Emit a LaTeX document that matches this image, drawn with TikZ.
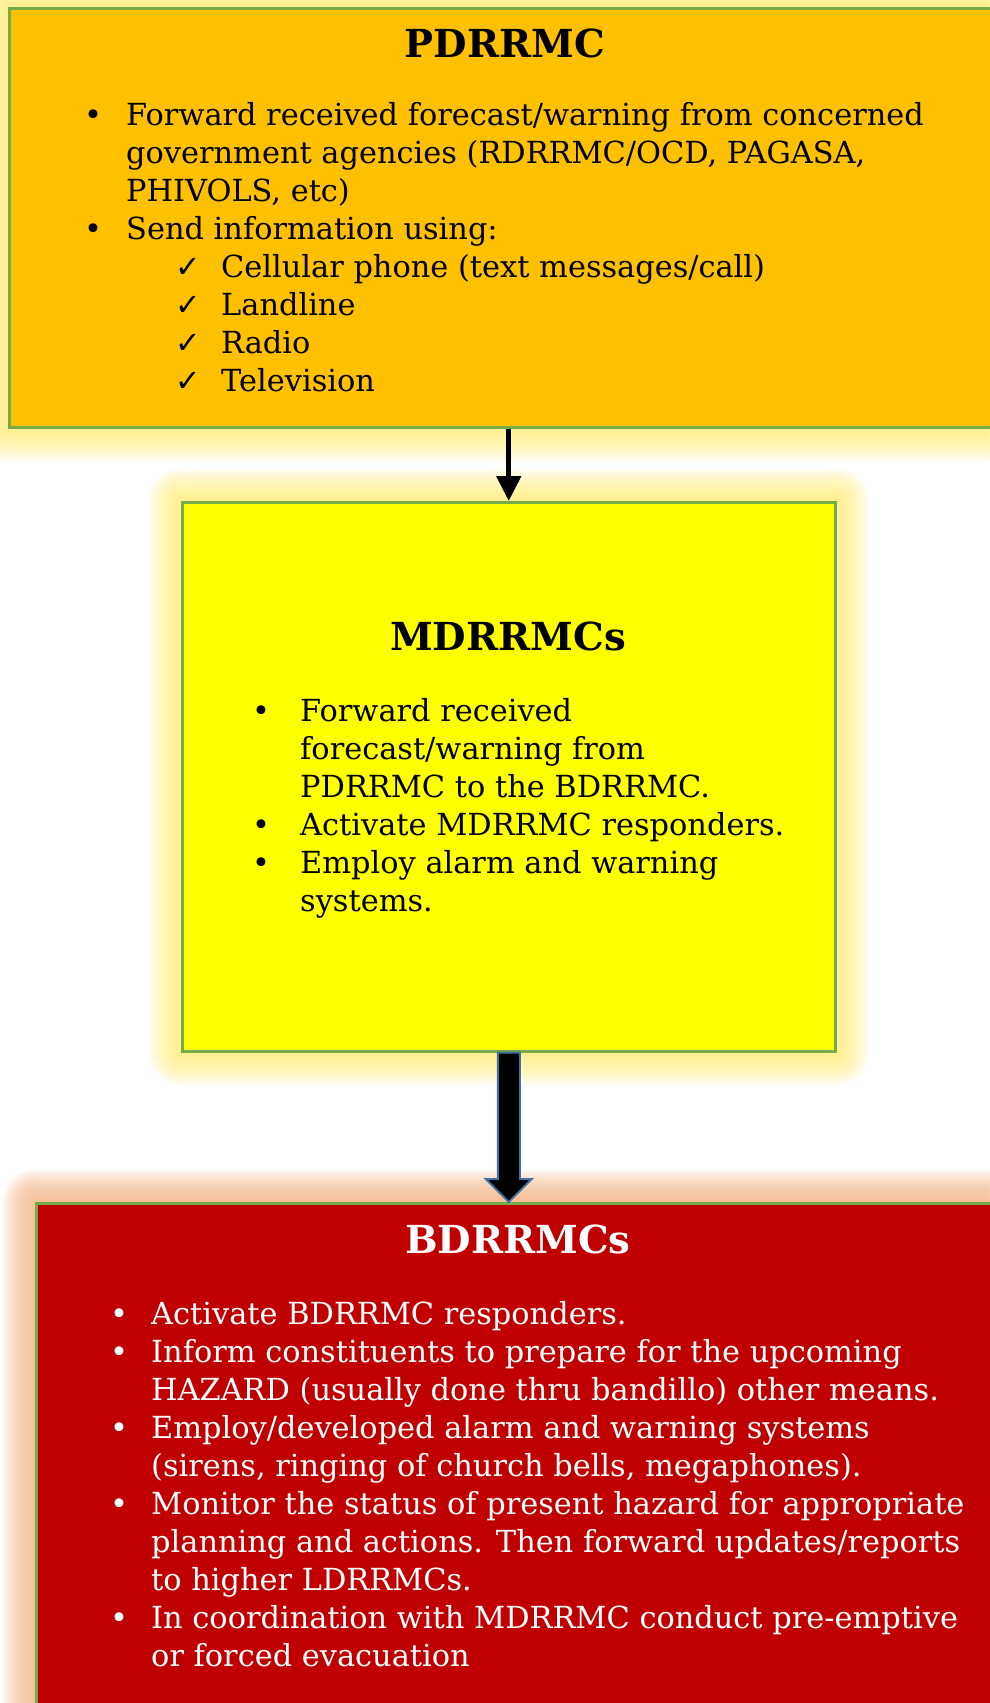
\documentclass[tikz,border=0pt]{standalone}
\usepackage{fontspec}
\setmainfont{DejaVu Serif}
\newfontfamily\symf{DejaVu Sans}
\usetikzlibrary{arrows.meta,calc}
\definecolor{orangeC}{HTML}{FFC000}
\definecolor{yellowC}{HTML}{FFFF00}
\definecolor{redC}{HTML}{C00000}
\definecolor{greenB}{HTML}{77AB4A}
\definecolor{glowY}{HTML}{FFF07A}
\definecolor{glowP}{HTML}{F6B383}
\definecolor{arrowB}{HTML}{41719C}
\newcommand\bodyfont{\fontsize{30.4}{38}\selectfont}
\newcommand\titlefont{\fontsize{38.6}{46}\selectfont\bfseries}
\newcommand\bul[1]{\leavevmode\llap{\makebox[#1][l]{•}}}
\newcommand\chk{\hspace*{95pt}\llap{\makebox[46pt][l]{{\symf ✓}}}}
\newcommand\glowof[2]{%
  \foreach \d in {2,4.5,...,32}
    \fill[#2, opacity=0.11, rounded corners=\d pt] ($(#1.north west)+(-\d,-\d)$) rectangle ($(#1.south east)+(\d,\d)$);}
\pgfdeclarelayer{bgzero}
\pgfdeclarelayer{bgone}
\pgfsetlayers{bgzero,bgone,main}
\begin{document}
\begin{tikzpicture}[x=1pt,y=-1pt,
  box/.style={draw=greenB, line width=2.5pt, rectangle, inner sep=0pt, anchor=north west},
  txt/.style={inner sep=0pt, anchor=base west}]
\useasboundingbox (0,0) rectangle (989,1703);
\begin{pgfonlayer}{bgzero}
\fill[white] (0,0) rectangle (989,1703);
\end{pgfonlayer}
% boxes
\node[box, fill=orangeC, minimum width=1002pt, minimum height=419pt] (p) at (8,7) {};
\node[box, fill=yellowC, minimum width=653pt, minimum height=549pt] (m) at (181,501) {};
\node[box, fill=redC, minimum width=975pt, minimum height=530pt] (b) at (35,1202) {};
\begin{pgfonlayer}{bgone}
\glowof{p}{glowY}
\glowof{m}{glowY}
\glowof{b}{glowP}
\end{pgfonlayer}
% titles
\node[inner sep=0pt, anchor=base, font=\titlefont] (pt) at (505,57) {PDRRMC};
\node[inner sep=0pt, anchor=base, font=\titlefont] (mt) at (508,650) {MDRRMCs};
\node[inner sep=0pt, anchor=base, font=\titlefont, text=white] (bt) at (518,1253) {BDRRMCs};
% lists
\node[txt] (pl) at (126,125) {\parbox[t]{880pt}{\bodyfont\raggedright
\bul{42pt}Forward received forecast/warning from concerned\\
government agencies (RDRRMC/OCD, PAGASA,\\
PHIVOLS, etc)\\
\bul{42pt}Send information using:\\
\chk Cellular phone (text messages/call)\\
\chk Landline\\
\chk Radio\\
\chk Television}};
\node[txt] (ml) at (300,721) {\parbox[t]{600pt}{\bodyfont\raggedright
\bul{48pt}Forward received\\
forecast/warning from\\
PDRRMC to the BDRRMC.\\
\bul{48pt}Activate MDRRMC responders.\\
\bul{48pt}Employ alarm and warning\\
systems.}};
\node[txt, text=white] (bl) at (151,1324) {\parbox[t]{850pt}{\bodyfont\raggedright
\bul{41pt}Activate BDRRMC responders.\\
\bul{41pt}Inform constituents to prepare for the upcoming\\
HAZARD (usually done thru bandillo) other means.\\
\bul{41pt}Employ/developed alarm and warning systems\\
(sirens, ringing of church bells, megaphones).\\
\bul{41pt}Monitor the status of present hazard for appropriate\\
planning and actions. Then forward updates/reports\\
to higher LDRRMCs.\\
\bul{41pt}In coordination with MDRRMC conduct pre-emptive\\
or forced evacuation}};
% connectors
\draw[line width=5pt, -{Triangle[width=24pt,length=25pt]}] (p.south -| m.north) -- (m.north);
\draw[fill=black, draw=arrowB, line width=2pt, line join=miter]
  ($(m.south)+(-11,0)$) -- ($(b.north -| m.south)+(-11,-23)$) -- ($(b.north -| m.south)+(-23,-23)$)
  -- (b.north -| m.south) -- ($(b.north -| m.south)+(23,-23)$) -- ($(b.north -| m.south)+(11,-23)$)
  -- ($(m.south)+(11,0)$) -- cycle;
\end{tikzpicture}
\end{document}
